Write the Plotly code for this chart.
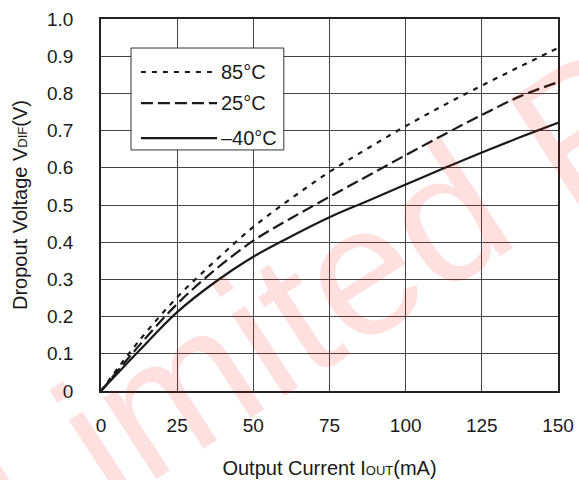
import plotly.graph_objects as go

# Dropout voltage vs output current at three temperatures
current_ma = [0, 12.5, 25, 37.5, 50, 62.5, 75, 87.5, 100, 112.5, 125, 137.5, 150]
vdif_85 = [0, 0.135, 0.252, 0.350, 0.441, 0.518, 0.589, 0.652, 0.712, 0.768, 0.821, 0.872, 0.922]
vdif_25 = [0, 0.122, 0.234, 0.326, 0.404, 0.465, 0.522, 0.578, 0.634, 0.689, 0.742, 0.792, 0.830]
vdif_m40 = [0, 0.108, 0.212, 0.293, 0.361, 0.416, 0.467, 0.511, 0.555, 0.599, 0.641, 0.682, 0.721]

x_ticks = [0, 25, 50, 75, 100, 125, 150]
y_ticks = [0, 0.1, 0.2, 0.3, 0.4, 0.5, 0.6, 0.7, 0.8, 0.9, 1.0]
y_tick_text = ["0", "0.1", "0.2", "0.3", "0.4", "0.5", "0.6", "0.7", "0.8", "0.9", "1.0"]

series = [
    ("85°C", vdif_85, "5px,6px"),
    ("25°C", vdif_25, "12px,5px"),
    ("–40°C", vdif_m40, "solid"),
]

FONT = "Liberation Sans, Arial, sans-serif"
INK = "#1a1a1a"

fig = go.Figure()
for name, ys, dash in series:
    fig.add_trace(go.Scatter(
        x=current_ma, y=ys, mode="lines", name=name, line_shape="spline",
        line=dict(color=INK, width=2.2, dash=dash), showlegend=False,
    ))

# Boxed key in the upper-left of the plot
shapes = [dict(type="rect", xref="x", yref="y", x0=9.85, x1=60.0, y0=0.648, y1=0.922,
               fillcolor="white", line=dict(color="#333333", width=1), layer="above")]
annotations = []
key_rows = [0.8575, 0.774, 0.680]
for (name, _, dash), ky in zip(series, key_rows):
    shapes.append(dict(type="line", xref="x", yref="y", x0=13.1, x1=38.1, y0=ky, y1=ky,
                       line=dict(color=INK, width=2.2, dash=dash), layer="above"))
    annotations.append(dict(x=38.7, y=ky, xref="x", yref="y", text=name, showarrow=False,
                            xanchor="left", yanchor="middle",
                            font=dict(family=FONT, size=20, color=INK)))

# Diagonal watermark
annotations.append(dict(
    x=(312 - 101) / 457, y=(391 - 302) / 372, xref="paper", yref="paper",
    text="Limited P", showarrow=False, textangle=-33,
    xanchor="center", yanchor="middle",
    font=dict(family=FONT, size=184, color="rgba(255,0,0,0.12)"),
))

axis_common = dict(
    showgrid=True, gridcolor="#444444", gridwidth=1,
    showline=True, linecolor="#222222", linewidth=1.5, mirror=True,
    zeroline=False, ticks="", automargin=False,
    tickfont=dict(family=FONT, size=19, color=INK),
)

fig.update_layout(
    width=579, height=480,
    margin=dict(l=101, r=21, t=19, b=89),
    paper_bgcolor="white", plot_bgcolor="white",
    font=dict(family=FONT, color=INK),
    shapes=shapes, annotations=annotations,
    xaxis=dict(range=[0, 150], tickvals=x_ticks, ticklabelstandoff=16,
               title=dict(text="Output Current I<span style='font-size:13px'>OUT</span>(mA)",
                          font=dict(family=FONT, size=20, color=INK), standoff=26),
               **axis_common),
    yaxis=dict(range=[0, 1.0], tickvals=y_ticks, ticktext=y_tick_text, ticklabelstandoff=22,
               title=dict(text="Dropout Voltage V<span style='font-size:13px'>DIF</span>(V)",
                          font=dict(family=FONT, size=20, color=INK), standoff=14),
               **axis_common),
)

fig.write_html("out.html")
